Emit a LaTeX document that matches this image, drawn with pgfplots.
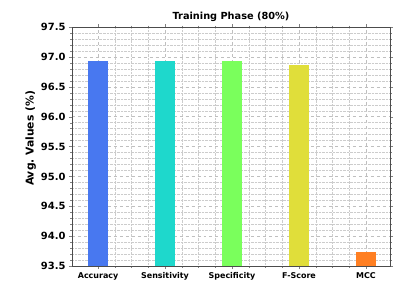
\documentclass[border=0pt]{standalone}
\usepackage{pgfplots}
\pgfplotsset{compat=1.18}
\usepackage{fontspec}
\setmainfont{DejaVu Sans}
\definecolor{cA}{HTML}{4878F0}
\definecolor{cB}{HTML}{1ED8CC}
\definecolor{cC}{HTML}{7AFF5C}
\definecolor{cD}{HTML}{E0DE3A}
\definecolor{cE}{HTML}{FF7F22}
\begin{document}
\begin{tikzpicture}
\path (0,0) rectangle (417bp,286bp);
\begin{axis}[
  at={(72bp,20bp)}, anchor=south west,
  scale only axis, width=318bp, height=239bp,
  ybar, bar width=20bp, bar shift=0pt,
  xmin=-0.39, xmax=4.36, ymin=93.5, ymax=97.5,
  xtick={0,1,2,3,4},
  xticklabels={Accuracy,Sensitivity,Specificity,F-Score,MCC},
  minor x tick num=3,
  ytick={93.5,94,94.5,95,95.5,96,96.5,97,97.5},
  minor y tick num=4,
  yticklabel style={/pgf/number format/fixed,/pgf/number format/fixed zerofill,/pgf/number format/precision=1},
  /pgf/number format/assume math mode=true,
  xticklabel style={font=\fontsize{8}{9}\selectfont\bfseries},
  yticklabel style={font=\fontsize{10}{12}\selectfont\bfseries},
  tick align=outside,
  tick pos=both,
  major tick length=3bp, minor tick length=1.5bp,
  grid=both,
  major grid style={gray!50, dashed, line width=0.4pt},
  minor grid style={gray!40, densely dotted, line width=0.3pt},
  axis line style={black!70, line width=0.8pt},
  title={\bfseries Training Phase (80\%)},
  title style={font=\fontsize{9.8}{11}\selectfont, yshift=-4bp},
  ylabel={\bfseries Avg.\ Values (\%)},
  ylabel shift=-2bp,
  ylabel style={font=\fontsize{10.8}{12}\selectfont, xshift=8bp},
]
\addplot[fill=cA, draw=none] coordinates {(0,96.93)};
\addplot[fill=cB, draw=none] coordinates {(1,96.93)};
\addplot[fill=cC, draw=none] coordinates {(2,96.93)};
\addplot[fill=cD, draw=none] coordinates {(3,96.87)};
\addplot[fill=cE, draw=none] coordinates {(4,93.73)};
\end{axis}
\end{tikzpicture}
\end{document}
